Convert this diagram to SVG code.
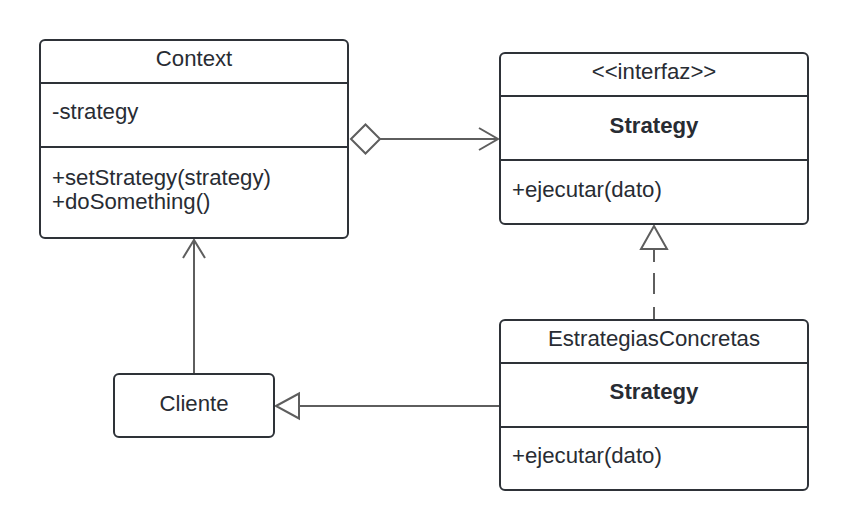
<svg xmlns="http://www.w3.org/2000/svg" width="849" height="531" viewBox="0 0 849 531">
<style>
.box{fill:#ffffff;stroke:#2e3238;stroke-width:2}
.div{stroke:#2e3238;stroke-width:2}
.t{font-family:"Liberation Sans",Arial,sans-serif;font-size:22.2px;fill:#282c33}
.c{text-anchor:middle}
.b{font-weight:bold}
.con{fill:none;stroke:#5e5e5e;stroke-width:2}
.hd{fill:#ffffff;stroke:#5e5e5e;stroke-width:2}
</style>
<rect width="849" height="531" fill="#ffffff"/>
<g id="connectors">
  <line class="con" x1="380" y1="139" x2="497" y2="139"/>
  <polyline class="con" points="479,128 498,139 479,150"/>
  <polygon class="hd" points="351,139 365.5,124.5 380,139 365.5,153.5"/>
  <line class="con" x1="194" y1="373" x2="194" y2="241"/>
  <polyline class="con" points="183,258 194,240 205,258"/>
  <line class="con" x1="654" y1="249" x2="654" y2="320" stroke-dasharray="13 11 21 13 13"/>
  <polygon class="hd" points="654,226 641,249 667,249"/>
  <line class="con" x1="299" y1="406" x2="500" y2="406"/>
  <polygon class="hd" points="276,406 299,393.5 299,418.5"/>
</g>
<g id="context">
  <rect class="box" x="40" y="40" width="308" height="198" rx="5"/>
  <line class="div" x1="40" y1="83" x2="348" y2="83"/>
  <line class="div" x1="40" y1="147" x2="348" y2="147"/>
  <text class="t c" x="194" y="66">Context</text>
  <text class="t" x="52" y="119">-strategy</text>
  <text class="t" x="52" y="185">+setStrategy(strategy)</text>
  <text class="t" x="52" y="209">+doSomething()</text>
</g>
<g id="strategy">
  <rect class="box" x="500" y="53" width="308" height="171" rx="5"/>
  <line class="div" x1="500" y1="96" x2="808" y2="96"/>
  <line class="div" x1="500" y1="160" x2="808" y2="160"/>
  <text class="t c" x="654" y="79">&lt;&lt;interfaz&gt;&gt;</text>
  <text class="t c b" x="654" y="133">Strategy</text>
  <text class="t" x="512" y="197">+ejecutar(dato)</text>
</g>
<g id="estrategias">
  <rect class="box" x="500" y="320" width="308" height="170" rx="5"/>
  <line class="div" x1="500" y1="363" x2="808" y2="363"/>
  <line class="div" x1="500" y1="427" x2="808" y2="427"/>
  <text class="t c" x="654" y="346">EstrategiasConcretas</text>
  <text class="t c b" x="654" y="399">Strategy</text>
  <text class="t" x="512" y="463">+ejecutar(dato)</text>
</g>
<g id="cliente">
  <rect class="box" x="114" y="374" width="160" height="63" rx="5"/>
  <text class="t c" x="194" y="411">Cliente</text>
</g>
</svg>
